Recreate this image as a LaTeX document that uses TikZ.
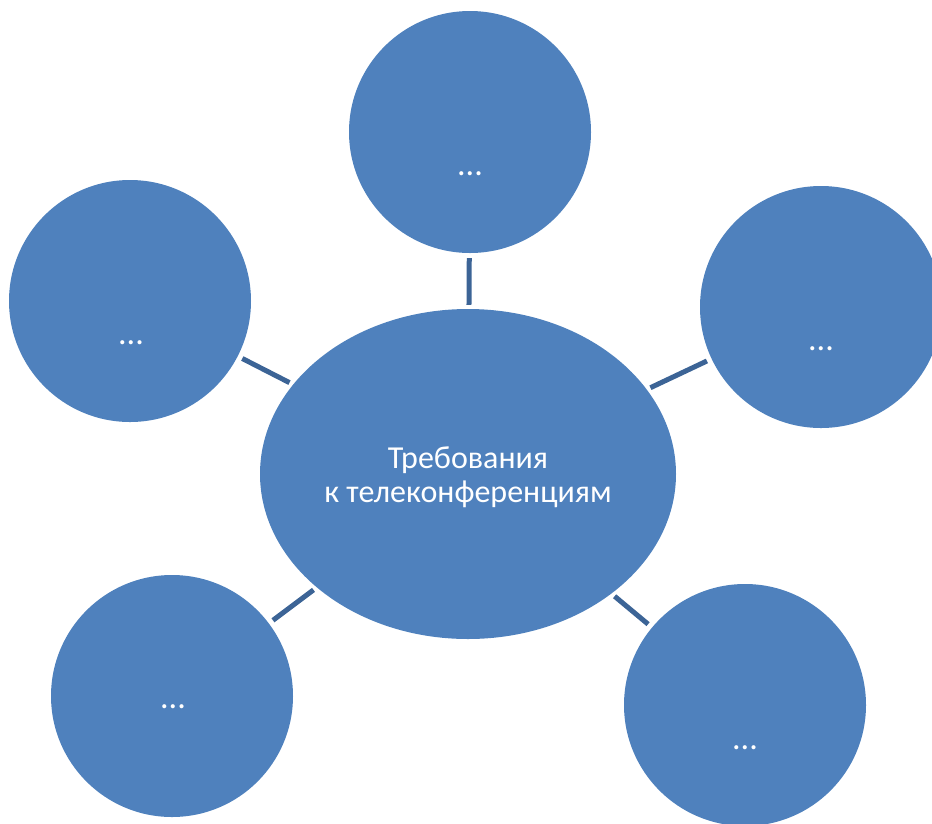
\documentclass[tikz,border=0pt]{standalone}
\usepackage{fontspec}
\setmainfont{Carlito}
\usetikzlibrary{shapes.geometric}
\definecolor{blob}{RGB}{79,129,189}
\definecolor{link}{RGB}{60,100,150}
\tikzset{
  bub/.style={circle,fill=blob,minimum size=242pt,inner sep=0pt},
  hub/.style={ellipse,fill=blob,minimum width=416pt,minimum height=330pt,inner sep=0pt},
  dots/.style={text=white,anchor=base,inner sep=0pt,font=\fontsize{34}{36}\selectfont},
  lnk/.style={draw=link,line width=5pt,shorten <=5pt,shorten >=4pt}
}
\begin{document}
\begin{tikzpicture}[x=1pt,y=-1pt]
\useasboundingbox (0,0) rectangle (932,823);
\node[hub] (c) at (468,474) {};
\node[bub] (t) at (470,132) {};
\node[bub] (l) at (130,301) {};
\node[bub] (r) at (821,307) {};
\node[bub] (bl) at (172,696) {};
\node[bub] (br) at (745,705) {};
\node[dots] (tt) at (470,175) {...};
\node[dots] (lt) at (131,344) {...};
\node[dots] (rt) at (821,350) {...};
\node[dots] (blt) at (173,708) {...};
\node[dots] (brt) at (745,749) {...};
\node[text=white,align=center,anchor=base,inner sep=0pt,font=\fontsize{32}{34}\selectfont] (ct) at (468,502) {Требования\\к телеконференциям};
\draw[lnk] (t) -- (c);
\draw[lnk] (l) -- (c);
\draw[lnk] (r) -- (c);
\draw[lnk] (bl) -- (c);
\draw[lnk] (br) -- (c);
\end{tikzpicture}
\end{document}
